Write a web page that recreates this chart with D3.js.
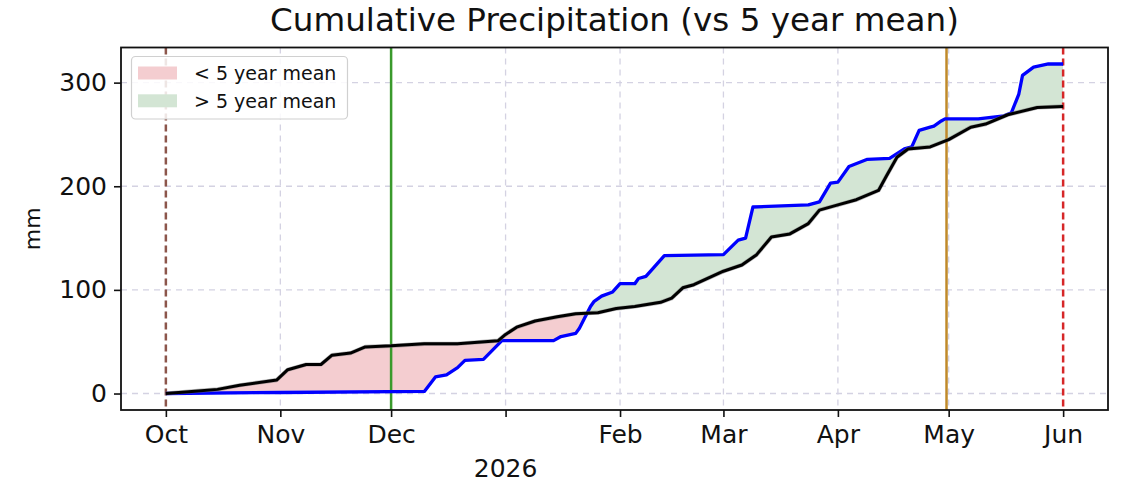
<!DOCTYPE html>
<html>
<head>
<meta charset="utf-8">
<script src="https://cdn.jsdelivr.net/npm/d3@7"></script>
<style>
  html, body { margin: 0; padding: 0; background: #fff; }
  svg { display: block; font-family: "DejaVu Sans", sans-serif; }
</style>
</head>
<body>
<svg id="chart" width="1128" height="490"></svg>
<script>
// ---------- DATA ----------
const meanDates = ["2025-10-01","2025-10-08","2025-10-15","2025-10-21","2025-10-31","2025-11-03","2025-11-08","2025-11-12","2025-11-15","2025-11-20","2025-11-24","2025-12-01","2025-12-10","2025-12-19","2025-12-30","2026-01-01","2026-01-04","2026-01-09","2026-01-15","2026-01-20","2026-01-26","2026-01-31","2026-02-05","2026-02-12","2026-02-15","2026-02-18","2026-02-21","2026-03-01","2026-03-06","2026-03-10","2026-03-14","2026-03-19","2026-03-24","2026-03-27","2026-04-01","2026-04-06","2026-04-12","2026-04-14","2026-04-17","2026-04-20","2026-04-26","2026-05-01","2026-05-07","2026-05-11","2026-05-17","2026-05-25","2026-06-01"];
const meanValues = [0,2,4,8,13,23,28,28,37,39,45,46,48,48,51,57,64,70,74,77,78,82,84,88,92,102,105,118,124,134,151,154,164,177,182,187,196,209,228,236,238,245,257,260,269,276,277];

const obsDates = ["2025-10-01","2025-11-01","2025-12-10","2025-12-13","2025-12-16","2025-12-19","2025-12-21","2025-12-26","2025-12-31","2026-01-14","2026-01-16","2026-01-20","2026-01-21","2026-01-24","2026-01-25","2026-01-27","2026-01-30","2026-02-01","2026-02-05","2026-02-06","2026-02-08","2026-02-10","2026-02-13","2026-03-01","2026-03-05","2026-03-07","2026-03-09","2026-03-24","2026-03-27","2026-03-30","2026-04-01","2026-04-04","2026-04-09","2026-04-15","2026-04-19","2026-04-21","2026-04-23","2026-04-26","2026-04-27","2026-04-29","2026-04-30","2026-05-09","2026-05-16","2026-05-18","2026-05-20","2026-05-21","2026-05-24","2026-05-28","2026-06-01"];
const obsValues = [0,1,2,16,18,25,32,33,51,51,55,58,63,84,89,94,98,106,106,111,113,121,133,134,148,150,180,182,185,203,204,219,226,227,236,238,254,257,258,263,265,265,268,271,289,307,315,318,318];

const tickDates = ["2025-10-01","2025-11-01","2025-12-01","2026-01-01","2026-02-01","2026-03-01","2026-04-01","2026-05-01","2026-06-01"];
const tickLabels = ["Oct","Nov","Dec","","Feb","Mar","Apr","May","Jun"];
const yearLabel = "2026";
const yTicks = [0, 100, 200, 300];
const markerDates = ["2025-10-01T00:00","2025-12-01T00:00","2026-04-30T10:00","2026-06-01T00:00"];
const legendLabels = ["< 5 year mean", "> 5 year mean"];
const titleText = "Cumulative Precipitation (vs 5 year mean)";
const yLabelText = "mm";

// ---------- STYLES ----------
const markerStyles = [
  {color: "#8c564b", dash: "7,4"},
  {color: "#3a9a2c", dash: null},
  {color: "#c08a2a", dash: null},
  {color: "#d62728", dash: "7,4"}
];
const redFill = "#f4cdd0";
const greenFill = "#d3e5d4";

// ---------- SETUP ----------
const parse = d3.timeParse("%Y-%m-%d");
const parseDT = d3.timeParse("%Y-%m-%dT%H:%M");
const mean = meanDates.map((d, i) => ({t: parse(d), v: meanValues[i]}));
const obs = obsDates.map((d, i) => ({t: parse(d), v: obsValues[i]}));

const svg = d3.select("#chart");
const L = 121, R = 1108, T = 47.5, B = 410;

const t0 = parse("2025-10-01"), t1 = parse("2026-06-01");
const span = t1 - t0, pad = span * 0.05;
const x = d3.scaleTime().domain([new Date(+t0 - pad), new Date(+t1 + pad)]).range([L, R]);
const vmax = d3.max(obsValues.concat(meanValues));
const ypad = vmax * 0.05;
const y = d3.scaleLinear().domain([-ypad, vmax + ypad]).range([B, T]);

const defs = svg.append("defs");

// grid
const gridColor = "#d4d2e2";
const grid = svg.append("g");
tickDates.forEach(d => {
  grid.append("line").attr("x1", x(parse(d))).attr("x2", x(parse(d)))
    .attr("y1", T).attr("y2", B)
    .attr("stroke", gridColor).attr("stroke-width", 1.3).attr("stroke-dasharray", "6,5");
});
yTicks.forEach(v => {
  grid.append("line").attr("x1", L).attr("x2", R).attr("y1", y(v)).attr("y2", y(v))
    .attr("stroke", gridColor).attr("stroke-width", 1.3).attr("stroke-dasharray", "6,5");
});

// clip regions for fills
const belowMean = d3.area().x(d => x(d.t)).y0(B).y1(d => y(d.v));
const aboveMean = d3.area().x(d => x(d.t)).y0(T).y1(d => y(d.v));
defs.append("clipPath").attr("id", "belowMean").append("path").attr("d", belowMean(mean));
defs.append("clipPath").attr("id", "aboveMean").append("path").attr("d", aboveMean(mean));

// red: above obs and below mean
svg.append("path").attr("d", d3.area().x(d => x(d.t)).y0(T).y1(d => y(d.v))(obs))
  .attr("fill", redFill).attr("clip-path", "url(#belowMean)");
// green: below obs and above mean
svg.append("path").attr("d", d3.area().x(d => x(d.t)).y0(B).y1(d => y(d.v))(obs))
  .attr("fill", greenFill).attr("clip-path", "url(#aboveMean)");

// marker lines
markerDates.forEach((d, i) => {
  const s = markerStyles[i];
  const xp = x(parseDT(d));
  svg.append("line").attr("x1", xp).attr("x2", xp)
    .attr("y1", T).attr("y2", B)
    .attr("stroke", s.color).attr("stroke-width", 2.5)
    .attr("stroke-dasharray", s.dash);
});

// lines
const line = d3.line().x(d => x(d.t)).y(d => y(d.v));
svg.append("path").attr("d", line(obs)).attr("fill", "none")
  .attr("stroke", "#0000ff").attr("stroke-width", 3.3).attr("stroke-linejoin", "round");
svg.append("path").attr("d", line(mean)).attr("fill", "none")
  .attr("stroke", "#777").attr("stroke-width", 4.2).attr("stroke-opacity", 0.5).attr("stroke-linejoin", "round");
svg.append("path").attr("d", line(mean)).attr("fill", "none")
  .attr("stroke", "#000").attr("stroke-width", 3).attr("stroke-linejoin", "round");

// axes frame
svg.append("rect").attr("x", L).attr("y", T).attr("width", R - L).attr("height", B - T)
  .attr("fill", "none").attr("stroke", "#111").attr("stroke-width", 1.8);

// y axis
const yAxis = d3.axisLeft(y).tickValues(yTicks).tickSize(7).tickPadding(7).tickFormat(d3.format("d"));
const gy = svg.append("g").attr("transform", `translate(${L},0)`).call(yAxis);
gy.select(".domain").remove();
gy.selectAll(".tick line").attr("stroke", "#111").attr("stroke-width", 1.6);
gy.selectAll(".tick text").attr("font-size", 25).attr("fill", "#111")
  .attr("font-family", "DejaVu Sans");

// x axis
const xAxis = d3.axisBottom(x).tickValues(tickDates.map(parse)).tickSize(7).tickPadding(8)
  .tickFormat((d, i) => tickLabels[i]);
const gx = svg.append("g").attr("transform", `translate(0,${B})`).call(xAxis);
gx.select(".domain").remove();
gx.selectAll(".tick line").attr("stroke", "#111").attr("stroke-width", 1.6);
gx.selectAll(".tick text").attr("font-size", 25).attr("fill", "#111")
  .attr("font-family", "DejaVu Sans");

svg.append("text").attr("x", x(parse(tickDates[3]))).attr("y", 477)
  .attr("text-anchor", "middle").attr("font-size", 25).attr("fill", "#111").text(yearLabel);

// y label
svg.append("text").attr("transform", `translate(40,${(T + B) / 2}) rotate(-90)`)
  .attr("text-anchor", "middle").attr("font-size", 22).attr("fill", "#111").text(yLabelText);

// title
svg.append("text").attr("x", (L + R) / 2).attr("y", 31).attr("text-anchor", "middle")
  .attr("font-size", 32.6).attr("fill", "#111").text(titleText);

// legend
const lg = svg.append("g");
lg.append("rect").attr("x", 131.5).attr("y", 56.5).attr("width", 216).attr("height", 62.5)
  .attr("rx", 4).attr("fill", "#fff").attr("fill-opacity", 0.85)
  .attr("stroke", "#d0d0d0").attr("stroke-width", 1.2);
[redFill, greenFill].forEach((c, i) => {
  lg.append("rect").attr("x", 138).attr("y", 66.5 + i * 27.8).attr("width", 39).attr("height", 13)
    .attr("fill", c);
  lg.append("text").attr("x", 194).attr("y", 80 + i * 27.8).attr("font-size", 19)
    .attr("fill", "#111").text(legendLabels[i]);
});
</script>
</body>
</html>
